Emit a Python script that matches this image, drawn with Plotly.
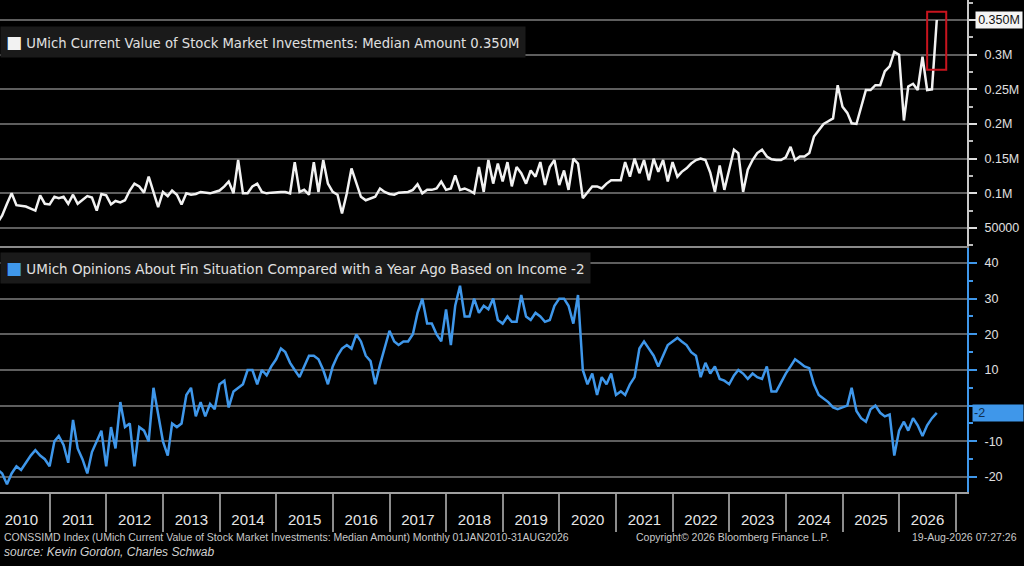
import pandas as pd
import plotly.graph_objects as go

# monthly data, Jan 2010 - Aug 2026 (plotted at month end)
dates = pd.date_range("2010-01-31", periods=200, freq="ME")

# UMich current value of stock market investments, median amount ($ thousands)
stock_k = [
    58, 68, 85, 100, 83, 82, 81, 78, 75, 97, 85, 84,
    95, 93, 95, 85, 98, 85, 91, 96, 94, 75, 99, 97,
    84, 89, 87, 90, 104, 114, 110, 101, 124, 100, 80, 102,
    96, 104, 98, 84, 100, 98, 99, 102, 101, 100, 102, 104,
    110, 117, 100, 148, 100, 100, 110, 114, 102, 100, 101, 102,
    102, 102, 100, 145, 102, 105, 98, 145, 102, 148, 114, 102,
    98, 71, 100, 136, 114, 95, 90, 93, 95, 107, 102, 99,
    98, 101, 102, 102, 105, 113, 100, 105, 105, 107, 117, 105,
    107, 126, 105, 107, 104, 100, 138, 102, 148, 114, 143, 117,
    145, 110, 138, 129, 114, 133, 124, 145, 112, 138, 148, 112,
    133, 105, 150, 143, 93, 102, 110, 110, 107, 114, 119, 119,
    119, 145, 124, 150, 129, 148, 119, 150, 131, 148, 117, 145,
    124, 131, 136, 143, 148, 150, 148, 130, 102, 140, 105, 134,
    163, 158, 102, 134, 148, 158, 163, 153, 149, 148, 148, 152,
    167, 148, 153, 153, 158, 182, 191, 200, 204, 208, 256, 225,
    216, 201, 200, 223, 249, 249, 256, 256, 276, 283, 304, 300,
    205, 254, 258, 249, 297, 249, 250, 350,
]
stock = [v * 1000 for v in stock_k]

# UMich opinions about financial situation vs a year ago, based on income
fin_sit = [
    -18, -19, -22, -19, -17, -18, -16, -14, -12.5, -14, -15, -17,
    -10, -8.5, -11, -16, -4, -12, -15, -19, -13, -10, -7, -17,
    -6, -12, 1, -6, -5, -17, -6, -7, -10, 5, -3, -10,
    -14, -5, -6, -5, 3, 5, -3, 1, -3, 0.5, -1, 6,
    7, -0.5, 4, 5, 6, 10, 10, 6, 10, 8.5, 11, 13,
    16, 15, 12, 10, 8, 11, 14, 14, 13, 10, 6, 11,
    14, 16, 17, 16, 20, 18, 14, 12.5, 6, 11.5, 16, 21,
    18, 17, 18, 18, 20, 26, 30, 23, 23, 20, 18, 27,
    17, 28, 33.6, 25, 25, 30, 26, 28, 27, 30, 24, 23,
    25, 23.5, 23.5, 31, 25, 24, 26, 25, 23.5, 24, 28, 30,
    30, 28, 23, 31, 10, 6, 9, 3, 8, 6, 9, 3,
    4, 3, 6, 8, 16, 18, 16, 14, 11, 14, 17, 18,
    19, 18, 17, 15, 14, 8, 12, 9, 11, 7.5, 7, 6,
    8.5, 10, 9, 7.5, 9, 8, 7.5, 11, 4, 4, 6.5, 9,
    11, 13, 12, 11, 10.5, 6, 3, 2, 1, -0.5, -1, -0.5,
    0, 5, -1.5, -3.5, -4.5, -1, 0, -2, -3, -2.5, -14, -7,
    -4.5, -7, -3.5, -5.5, -8.5, -5.5, -3.5, -2,
]

top_tickvals = [50000, 100000, 150000, 200000, 250000, 300000, 350000]
top_ticktext = ["50000", "0.1M", "0.15M", "0.2M", "0.25M", "0.3M", ""]
bot_tickvals = [-20, -10, 0, 10, 20, 30, 40]
bot_ticktext = ["-20", "-10", "", "10", "20", "30", "40"]  # 0 sits under the last-value tag

name_top = "UMich Current Value of Stock Market Investments: Median Amount"
name_bot = "UMich Opinions About Fin Situation Compared with a Year Ago Based on Income"

WHITE = "#f2f2f2"
BLUE = "#3f97ea"
GRID = "#5e5e5e"
FONT = "Liberation Sans"
LEG_FONT = "DejaVu Sans"

last_top = "%.3fM" % (stock[-1] / 1e6)
last_bot = "%g" % fin_sit[-1]

fig = go.Figure()
fig.add_trace(go.Scatter(x=dates, y=stock, mode="lines", xaxis="x2", yaxis="y",
                         line=dict(color=WHITE, width=2.5), showlegend=False))
fig.add_trace(go.Scatter(x=dates, y=fin_sit, mode="lines", xaxis="x", yaxis="y2",
                         line=dict(color=BLUE, width=2.5), showlegend=False))

xrange = ["2010-02-14", "2027-03-14"]

fig.update_layout(
    width=1024, height=566,
    margin=dict(l=0, r=57, t=0, b=74),
    paper_bgcolor="#000000", plot_bgcolor="#000000",
    font=dict(family=FONT, color="#e0e0e0"),
    xaxis=dict(
        domain=[0, 1], anchor="y2", range=xrange, type="date",
        dtick="M12", tick0="2010-01-01", tickformat="%Y", ticklabelmode="period",
        ticks="outside", ticklen=38, tickwidth=1.5, tickcolor="#8c8c8c",
        ticklabelstandoff=-25,
        showline=True, linecolor="#a0a0a0", linewidth=2, showgrid=False,
        tickfont=dict(size=15, color="#e6e6e6"),
    ),
    xaxis2=dict(
        domain=[0, 1], anchor="y", matches="x", range=xrange, type="date",
        showticklabels=False, ticks="", showgrid=False,
        showline=True, linecolor="#8a8a8a", linewidth=2,
    ),
    yaxis=dict(
        domain=[0.5, 1], anchor="x2", side="right", range=[24040, 378800],
        tickvals=top_tickvals, ticktext=top_ticktext,
        showgrid=True, gridcolor=GRID, gridwidth=1.5, zeroline=False,
        showline=True, linecolor="#c8c8c8", linewidth=2,
        ticks="outside", ticklen=8, tickwidth=2, tickcolor="#dddddd",
        ticklabelstandoff=5,
        minor=dict(dtick=25000, ticks="outside", ticklen=4, tickcolor="#bbbbbb", showgrid=False),
        tickfont=dict(size=12.5, color="#e0e0e0"),
    ),
    yaxis2=dict(
        domain=[0, 0.496], anchor="x", side="right", range=[-24.2, 44.2],
        tickvals=bot_tickvals, ticktext=bot_ticktext,
        showgrid=True, gridcolor=GRID, gridwidth=1.5, zeroline=False,
        showline=True, linecolor=BLUE, linewidth=2,
        ticks="outside", ticklen=8, tickwidth=2, tickcolor=BLUE,
        ticklabelstandoff=5,
        minor=dict(dtick=5, ticks="outside", ticklen=4, tickcolor=BLUE, showgrid=False),
        tickfont=dict(size=12.5, color="#e0e0e0"),
    ),
)

# highlight box around the latest reading
last_date = dates[-1]
fig.add_shape(type="rect", xref="x2", yref="y",
              x0=last_date - pd.DateOffset(months=2), x1=last_date + pd.DateOffset(months=2),
              y0=stock[-1] * 0.795, y1=stock[-1] * 1.034,
              line=dict(color="#c8141e", width=2))

# legend bands
fig.add_annotation(
    xref="paper", yref="paper", x=0, y=0.915, xanchor="left", yanchor="middle",
    text='<span style="color:%s;font-size:17px">■</span> %s %s' % (WHITE, name_top, last_top),
    showarrow=False, bgcolor="#1a1a1a", borderpad=5, font=dict(family=LEG_FONT, size=13.2, color="#e0e0e0"))
fig.add_annotation(
    xref="paper", yref="paper", x=0, y=0.455, xanchor="left", yanchor="middle",
    text='<span style="color:%s;font-size:17px">■</span> %s %s' % (BLUE, name_bot, last_bot),
    showarrow=False, bgcolor="#1a1a1a", borderpad=5, font=dict(family=LEG_FONT, size=13.5, color="#e0e0e0"))

# last value tags on the right axes
fig.add_annotation(xref="paper", yref="y", x=1.0085, y=stock[-1], xanchor="left", yanchor="middle",
                   text=last_top, showarrow=False, bgcolor="#f4f4f4", borderpad=1,
                   width=44, align="center", font=dict(size=12.5, color="#111111"))
fig.add_annotation(xref="paper", yref="y2", x=1.005, y=fin_sit[-1], xanchor="left", yanchor="middle",
                   text=last_bot, showarrow=False, bgcolor=BLUE, borderpad=1,
                   width=48, align="left", font=dict(size=12.5, color="#10304f"))

# footer
fig.add_annotation(xref="paper", yref="paper", x=0.002, y=-0.0915, xanchor="left", yanchor="middle",
                   text="CONSSIMD Index (UMich Current Value of Stock Market Investments: Median Amount) Monthly 01JAN2010-31AUG2026",
                   showarrow=False, font=dict(size=10.5, color="#c8c8c8"))
fig.add_annotation(xref="paper", yref="paper", x=0.758, y=-0.0915, xanchor="center", yanchor="middle",
                   text="Copyright© 2026 Bloomberg Finance L.P.",
                   showarrow=False, font=dict(size=10.5, color="#c8c8c8"))
fig.add_annotation(xref="paper", yref="paper", x=1.054, y=-0.0915, xanchor="right", yanchor="middle",
                   text="19-Aug-2026 07:27:26",
                   showarrow=False, font=dict(size=10.5, color="#c8c8c8"))
fig.add_annotation(xref="paper", yref="paper", x=0.002, y=-0.122, xanchor="left", yanchor="middle",
                   text="<i>source: Kevin Gordon, Charles Schwab</i>",
                   showarrow=False, font=dict(size=12, color="#d0d0d0"))

# page body has a default 8px margin; drop it so the chart fills the window
fig.write_html("out.html", config={"displayModeBar": False},
               post_script="document.body.style.margin='0';document.body.style.background='#000';")
